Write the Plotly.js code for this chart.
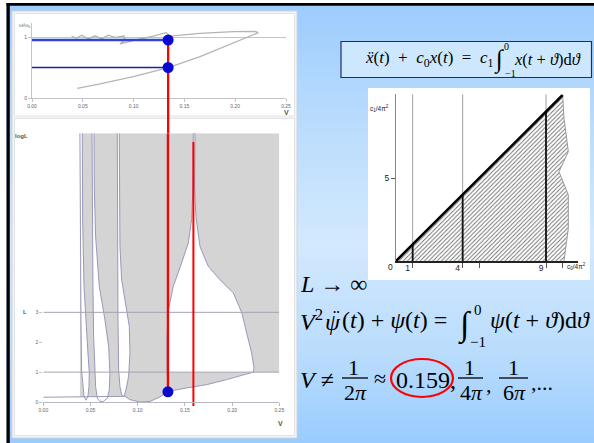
<!DOCTYPE html>
<html>
<head>
<meta charset="utf-8">
<script src="https://cdn.plot.ly/plotly-3.0.1.min.js"></script>
<style>
  html, body { margin: 0; padding: 0; background: #ffffff; }
  #chart {
    width: 594px; height: 443px;
    background: linear-gradient(to bottom, #9ccbfd 0%, #b4d9fd 22%, #d3e9fd 55%, #b9dcfd 80%, #99ccff 100%);
  }
</style>
</head>
<body>
<div id="chart"></div>
<script>
// ---- top panel: frequency ratio against V ----
const freqV = [0.0446, 0.0669, 0.0997, 0.1342, 0.1654, 0.1982, 0.2178, 0.2227,
               0.2195, 0.1982, 0.1654, 0.1358, 0.1319, 0.1194, 0.0997, 0.0866,
               0.0915, 0.0906, 0.0817, 0.0751, 0.0686, 0.0620, 0.0554, 0.0489, 0.0440, 0.0390];
const freqRatio = [0.159, 0.230, 0.350, 0.497, 0.678, 0.896, 1.038, 1.071,
                   1.093, 1.087, 1.060, 1.016, 1.072, 1.016, 0.943, 0.889,
                   0.951, 1.017, 0.995, 1.030, 0.972, 1.020, 0.972, 1.030, 0.983, 1.010];
const markVTop = 0.134;
const markRatios = [0.95, 0.50];
const freqTicks = [0, 0.05, 0.10, 0.15, 0.20, 0.25];
const freqTickText = ['0.00', '0.05', '0.10', '0.15', '0.20', '0.25'];

// ---- bottom panel: stability regions in the (V, L) plane ----
const unstableV = [0.0388, 0.25, 0.25, 0.2225, 0.2119, 0.1942, 0.1730, 0.1518, 0.1324,
                   0.1236, 0.1130, 0.1024, 0.0918, 0.0865, 0.0600, 0.0388];
const unstableL = [8.99, 8.99, 1.0, 1.0, 0.91, 0.75, 0.58, 0.47, 0.36,
                   0.17, 0.02, 0.0, 0.08, 0.19, 0.18, 0.17];
const tongue1V = [0.0388, 0.0390, 0.0393, 0.0399, 0.0406, 0.0417, 0.0431, 0.0452,
                  0.0473, 0.0484, 0.0487, 0.0473, 0.0452, 0.0431, 0.0417, 0.0413];
const tongue1L = [8.99, 6.0, 4.0, 2.75, 1.03, 0.52, 0.19, 0.06,
                  0.19, 0.52, 1.0, 1.64, 2.75, 3.87, 6.1, 8.99];
const tongue2V = [0.0516, 0.0519, 0.0526, 0.0533, 0.0544, 0.0554, 0.0572, 0.0600,
                  0.0636, 0.0678, 0.0699, 0.0706, 0.0692, 0.0653, 0.0593, 0.0554, 0.0540, 0.0537];
const tongue2L = [8.99, 6.10, 3.87, 2.20, 1.08, 0.52, 0.13, 0.02,
                  0.02, 0.13, 0.41, 0.97, 1.86, 2.75, 3.87, 5.54, 7.21, 8.99];
const tongue3V = [0.0784, 0.0784, 0.0791, 0.0798, 0.0812, 0.0830, 0.0855,
                  0.0876, 0.0904, 0.0918, 0.0911, 0.0876, 0.0830, 0.0812, 0.0805, 0.0805];
const tongue3L = [8.99, 4.98, 2.75, 1.08, 0.52, 0.24, 0.17,
                  0.41, 0.86, 1.64, 2.53, 3.20, 4.09, 5.21, 7.21, 8.99];
const tongue4V = [0.1312, 0.1310, 0.1320, 0.1377, 0.1465, 0.1536, 0.1571, 0.1585, 0.1589,
                  0.1607, 0.1603, 0.1617, 0.1660, 0.1748, 0.1871, 0.2013, 0.2101, 0.2154, 0.2207, 0.2232, 0.2225];
const tongue4L = [1.0, 2.0, 3.0, 3.87, 4.65, 5.32, 6.1, 7.2, 8.99,
                  8.99, 7.2, 6.2, 5.2, 4.54, 4.09, 3.65, 3.0, 2.31, 1.64, 1.14, 1.0];
const baseV = [0, 0.02, 0.0388, 0.06, 0.0865];
const baseL = [0.16, 0.165, 0.17, 0.18, 0.19];
const lowerV = [0.0865, 0.0918, 0.1024, 0.1130, 0.1236, 0.1324, 0.1518, 0.1730, 0.1942, 0.2119, 0.2225];
const lowerL = [0.19, 0.08, 0.0, 0.02, 0.17, 0.36, 0.47, 0.58, 0.75, 0.91, 1.0];
const edge4V = [0.1312, 0.1318, 0.1324];
const edge4L = [1.0, 0.6, 0.36];
const levelsL = [1, 3];
const markVBottom = 0.132;
const markL = 0.34;
const criticalV = 0.159;
const lTicks = [0, 1, 2, 3];

// ---- right panel: (c0/4pi^2, c1/4pi^2) plane ----
const hatchC0 = [0, 10, 10.08, 10.34, 9.78, 10.34, 10.34, 10.08, 0];
const hatchC1 = [0, 10, 8.6, 6.59, 5.38, 3.98, 1.97, 0, 0];
const resonances = [1, 4, 9];
const c0Ticks = [1, 4, 5, 9, 10];
const c0TickText = ['1', '4', '', '9', ''];

const W = 594, H = 443;
const px = x => x / W;
const py = y => 1 - y / H;

const greyLine = '#9898bc';
const sans = 'Liberation Sans, Arial, sans-serif';
const serif = 'Liberation Serif, Times New Roman, serif';
const EN = '\u2002';

function vlines(xs, y0s, y1s) {
  const x = [], y = [];
  xs.forEach((v, i) => { x.push(v, v, null); y.push(y0s[i], y1s[i], null); });
  return { x, y };
}

const traces = [];
// top panel
traces.push({ x: freqV, y: freqRatio, xaxis: 'x', yaxis: 'y', mode: 'lines',
  line: { color: '#b4b4b4', width: 1.3 }, hoverinfo: 'skip' });
traces.push({ x: [0, markVTop], y: [markRatios[0], markRatios[0]], xaxis: 'x', yaxis: 'y', mode: 'lines',
  line: { color: '#3344d0', width: 2.6 } });
traces.push({ x: [0, markVTop], y: [markRatios[1], markRatios[1]], xaxis: 'x', yaxis: 'y', mode: 'lines',
  line: { color: '#1c1cb8', width: 1.5 } });
traces.push({ x: [markVTop, markVTop], y: [0, markRatios[0]], xaxis: 'x', yaxis: 'y', mode: 'lines',
  line: { color: '#ff0000', width: 2.3 } });
traces.push({ x: [markVTop, markVTop], y: markRatios, xaxis: 'x', yaxis: 'y', mode: 'markers',
  marker: { color: '#0808d0', size: 11 }, cliponaxis: false });

// bottom panel
traces.push({ x: unstableV, y: unstableL, xaxis: 'x2', yaxis: 'y2', mode: 'lines', fill: 'toself',
  fillcolor: '#d4d4d4', line: { width: 0 } });
[[tongue1V, tongue1L], [tongue2V, tongue2L], [tongue3V, tongue3L], [tongue4V, tongue4L]].forEach(t => {
  traces.push({ x: t[0], y: t[1], xaxis: 'x2', yaxis: 'y2', mode: 'lines', fill: 'toself',
    fillcolor: '#ffffff', line: { color: greyLine, width: 1 } });
});
[[baseV, baseL], [lowerV, lowerL], [edge4V, edge4L]].forEach(c => {
  traces.push({ x: c[0], y: c[1], xaxis: 'x2', yaxis: 'y2', mode: 'lines',
    line: { color: greyLine, width: 1 } });
});
const lv = { x: [], y: [] };
levelsL.forEach(l => { lv.x.push(0, 0.25, null); lv.y.push(l, l, null); });
traces.push({ x: lv.x, y: lv.y, xaxis: 'x2', yaxis: 'y2', mode: 'lines',
  line: { color: '#a4a4b4', width: 1 } });
traces.push({ x: [markVBottom, markVBottom], y: [markL, 8.99], xaxis: 'x2', yaxis: 'y2', mode: 'lines',
  line: { color: '#ff0000', width: 2.3 } });
traces.push({ x: [criticalV, criticalV], y: [-0.13, 8.7], xaxis: 'x2', yaxis: 'y2', mode: 'lines',
  line: { color: '#ff0000', width: 2 } });
traces.push({ x: [markVBottom], y: [markL], xaxis: 'x2', yaxis: 'y2', mode: 'markers',
  marker: { color: '#0808d0', size: 11 }, cliponaxis: false });

// right panel
traces.push({ x: hatchC0, y: hatchC1, xaxis: 'x3', yaxis: 'y3', mode: 'lines', fill: 'toself',
  fillpattern: { shape: '/', fgcolor: '#6e6e6e', bgcolor: '#ffffff', size: 3, solidity: 0.3 },
  line: { width: 0 } });
traces.push({ x: hatchC0.slice(1, 8), y: hatchC1.slice(1, 8), xaxis: 'x3', yaxis: 'y3', mode: 'lines',
  line: { color: '#9a9a9a', width: 1 } });
const gv = vlines(resonances, resonances.map(() => 0), resonances.map(() => 10.05));
traces.push({ x: gv.x, y: gv.y, xaxis: 'x3', yaxis: 'y3', mode: 'lines',
  line: { color: '#a0a0a0', width: 1 } });
const bv = vlines(resonances, resonances.map(() => 0), resonances);
traces.push({ x: bv.x, y: bv.y, xaxis: 'x3', yaxis: 'y3', mode: 'lines',
  line: { color: '#111111', width: 1.8 } });
traces.push({ x: [0, 10], y: [0, 10], xaxis: 'x3', yaxis: 'y3', mode: 'lines',
  line: { color: '#000000', width: 2.6 } });

function rect(x0, y0, x1, y1, fill, line, lw, layer) {
  return { type: 'rect', xref: 'paper', yref: 'paper', x0: px(x0), x1: px(x1), y0: py(y1), y1: py(y0),
    fillcolor: fill, line: { color: line || fill, width: lw || 0 }, layer: layer || 'below' };
}
function bar(x0, x1, y) {
  return { type: 'line', xref: 'paper', yref: 'paper', x0: px(x0), x1: px(x1), y0: py(y), y1: py(y),
    line: { color: '#000000', width: 1.3 }, layer: 'above' };
}

const topDom = [py(98), py(23)];
const botDom = [py(406.5), py(133.3)];

const shapes = [
  rect(0, 0, 594, 3, '#ffffff'),
  rect(0, 0, 6.5, 443, '#ffffff'),
  rect(6.5, 3, 594, 5.8, '#000000'),
  rect(6.5, 3, 9.8, 443, '#000000'),
  rect(12, 11, 297, 438, '#f3f4f6', '#cfd4da', 1),
  rect(14.5, 13.5, 294.5, 116, '#ffffff', '#e3e3e3', 1),
  rect(14.5, 118.5, 294.5, 435.5, '#ffffff', '#e3e3e3', 1),
  rect(341, 41.5, 591.5, 77.5, '#cde8fe', '#1c2a7a', 1.2),
  rect(368, 88, 590, 280, '#ffffff'),
  { type: 'line', xref: 'x', yref: 'paper', x0: markVTop, x1: markVTop, y0: botDom[1], y1: topDom[0],
    line: { color: '#ff0000', width: 2.3 }, layer: 'above' },
  bar(342, 368, 378), bar(458, 483, 378), bar(499, 528, 378),
  { type: 'circle', xref: 'paper', yref: 'paper', x0: px(391), x1: px(453), y0: py(397), y1: py(359),
    line: { color: '#ff0000', width: 2.2 }, layer: 'above' }
];

function note(text, x, y, size, opts) {
  opts = opts || {};
  return { text, x: px(x), y: py(y), xref: 'paper', yref: 'paper', showarrow: false,
    xanchor: opts.xa || 'center', yanchor: opts.ya || 'middle',
    font: { family: opts.family || serif, size, color: opts.color || '#000000' } };
}
const small = { family: sans, color: '#555555' };
const annotations = [
  note('ω/ω<sub>0</sub>', 24, 25, 5, small),
  note('<b>V</b>', 286, 113, 7, small),
  note('<b>logL</b>', 21, 136, 6, small),
  note('<b>L</b>', 25, 312, 6, small),
  note('<b>V</b>', 280, 423, 7, small),
  note('c<sub>1</sub>/4π<sup>2</sup>', 379, 108, 6.5, { family: sans, color: '#222222' }),
  note('c<sub>0</sub>/4π<sup>2</sup>', 565, 266, 6.5, { family: sans, color: '#222222', xa: 'left' }),
  note('0', 391, 267, 8.5, { family: sans, color: '#222222' }),
  // boxed delay equation
  note('<i>ẍ</i>(<i>t</i>)' + EN + '+' + EN + '<i>c</i><sub>0</sub><i>x</i>(<i>t</i>)' + EN + '=' + EN + '<i>c</i><sub>1</sub>',
       495, 59, 17, { xa: 'right' }),
  note('∫', 499, 60, 25),
  note('0', 507, 46, 10),
  note('−1', 510, 74, 10),
  note('<i>x</i>(<i>t</i> + <i>ϑ</i>)d<i>ϑ</i>', 512, 59, 16.5, { xa: 'left' }),
  // limit equations
  note('<i>L</i> → ∞', 298, 284, 24, { xa: 'left' }),
  note('<i>V</i><sup>2</sup>', 298, 320, 24, { xa: 'left' }),
  note('<i>ψ</i>', 333, 322, 24),
  note('¨', 336, 317, 20),
  note('(<i>t</i>) + <i>ψ</i>(<i>t</i>) =', 340, 320, 24, { xa: 'left' }),
  note('∫', 465, 325, 34),
  note('0', 478, 310, 15),
  note('−1', 478, 342, 15),
  note('<i>ψ</i>(<i>t</i> + <i>ϑ</i>)d<i>ϑ</i>', 488, 320, 24, { xa: 'left' }),
  note('<i>V</i> ≠', 298, 380, 24, { xa: 'left' }),
  note('1', 353, 367, 22),
  note('2<i>π</i>', 355, 392, 22),
  note('≈', 380, 378, 22),
  note('0.159,', 394, 380, 24, { xa: 'left' }),
  note('1', 470, 367, 22),
  note('4<i>π</i>', 471, 392, 22),
  note(',', 484, 384, 22, { xa: 'left' }),
  note('1', 513, 367, 22),
  note('6<i>π</i>', 514, 392, 22),
  note(',...', 529, 382, 22, { xa: 'left' })
];

const tickFont = { family: sans, size: 5, color: '#666666' };
const layout = {
  width: W, height: H,
  margin: { l: 0, r: 0, t: 0, b: 0 },
  paper_bgcolor: 'rgba(0,0,0,0)', plot_bgcolor: 'rgba(0,0,0,0)',
  showlegend: false,
  xaxis: { domain: [px(32), px(286)], range: [0, 0.25], anchor: 'y', tickvals: freqTicks, ticktext: freqTickText,
    tickfont: tickFont, showline: true, linecolor: '#c4c4c4', ticks: 'outside', ticklen: 3, tickcolor: '#c4c4c4',
    showgrid: false, zeroline: false },
  yaxis: { domain: topDom, range: [0, 1.23], anchor: 'x', tickvals: [0, 1], tickfont: tickFont,
    showline: true, linecolor: '#c4c4c4', ticks: 'outside', ticklen: 3, tickcolor: '#c4c4c4',
    showgrid: true, gridcolor: '#c4c4c4', zeroline: false },
  xaxis2: { domain: [px(43.3), px(279.3)], range: [0, 0.25], anchor: 'free', position: py(402),
    tickvals: freqTicks, ticktext: freqTickText, tickfont: tickFont, showline: true, linecolor: '#b8b8c4',
    ticks: 'outside', ticklen: 3, tickcolor: '#b8b8c4', showgrid: false, zeroline: false },
  yaxis2: { domain: botDom, range: [-0.15, 8.99], anchor: 'x2', tickvals: lTicks, tickfont: tickFont,
    showline: false, ticks: 'outside', ticklen: 3, tickcolor: '#c4c4c4', showgrid: false, zeroline: false },
  xaxis3: { domain: [px(396), px(578)], range: [0, 10.92], anchor: 'y3', tickvals: c0Ticks, ticktext: c0TickText,
    tickfont: { family: sans, size: 8.5, color: '#222222' }, showline: true, linecolor: '#222222', linewidth: 1.5,
    ticks: 'outside', ticklen: 5, tickcolor: '#555555', ticklabelshift: -5, ticklabelstandoff: -7,
    showgrid: false, zeroline: false },
  yaxis3: { domain: [py(261), py(94.2)], range: [0, 10.05], anchor: 'x3', tickvals: [5],
    tickfont: { family: sans, size: 8.5, color: '#222222' }, showline: true, linecolor: '#8a8a8a', linewidth: 1,
    ticks: 'outside', ticklen: 4, tickcolor: '#555555', showgrid: false, zeroline: false },
  shapes, annotations
};

Plotly.newPlot('chart', traces, layout, { staticPlot: true, displayModeBar: false });
</script>
</body>
</html>
